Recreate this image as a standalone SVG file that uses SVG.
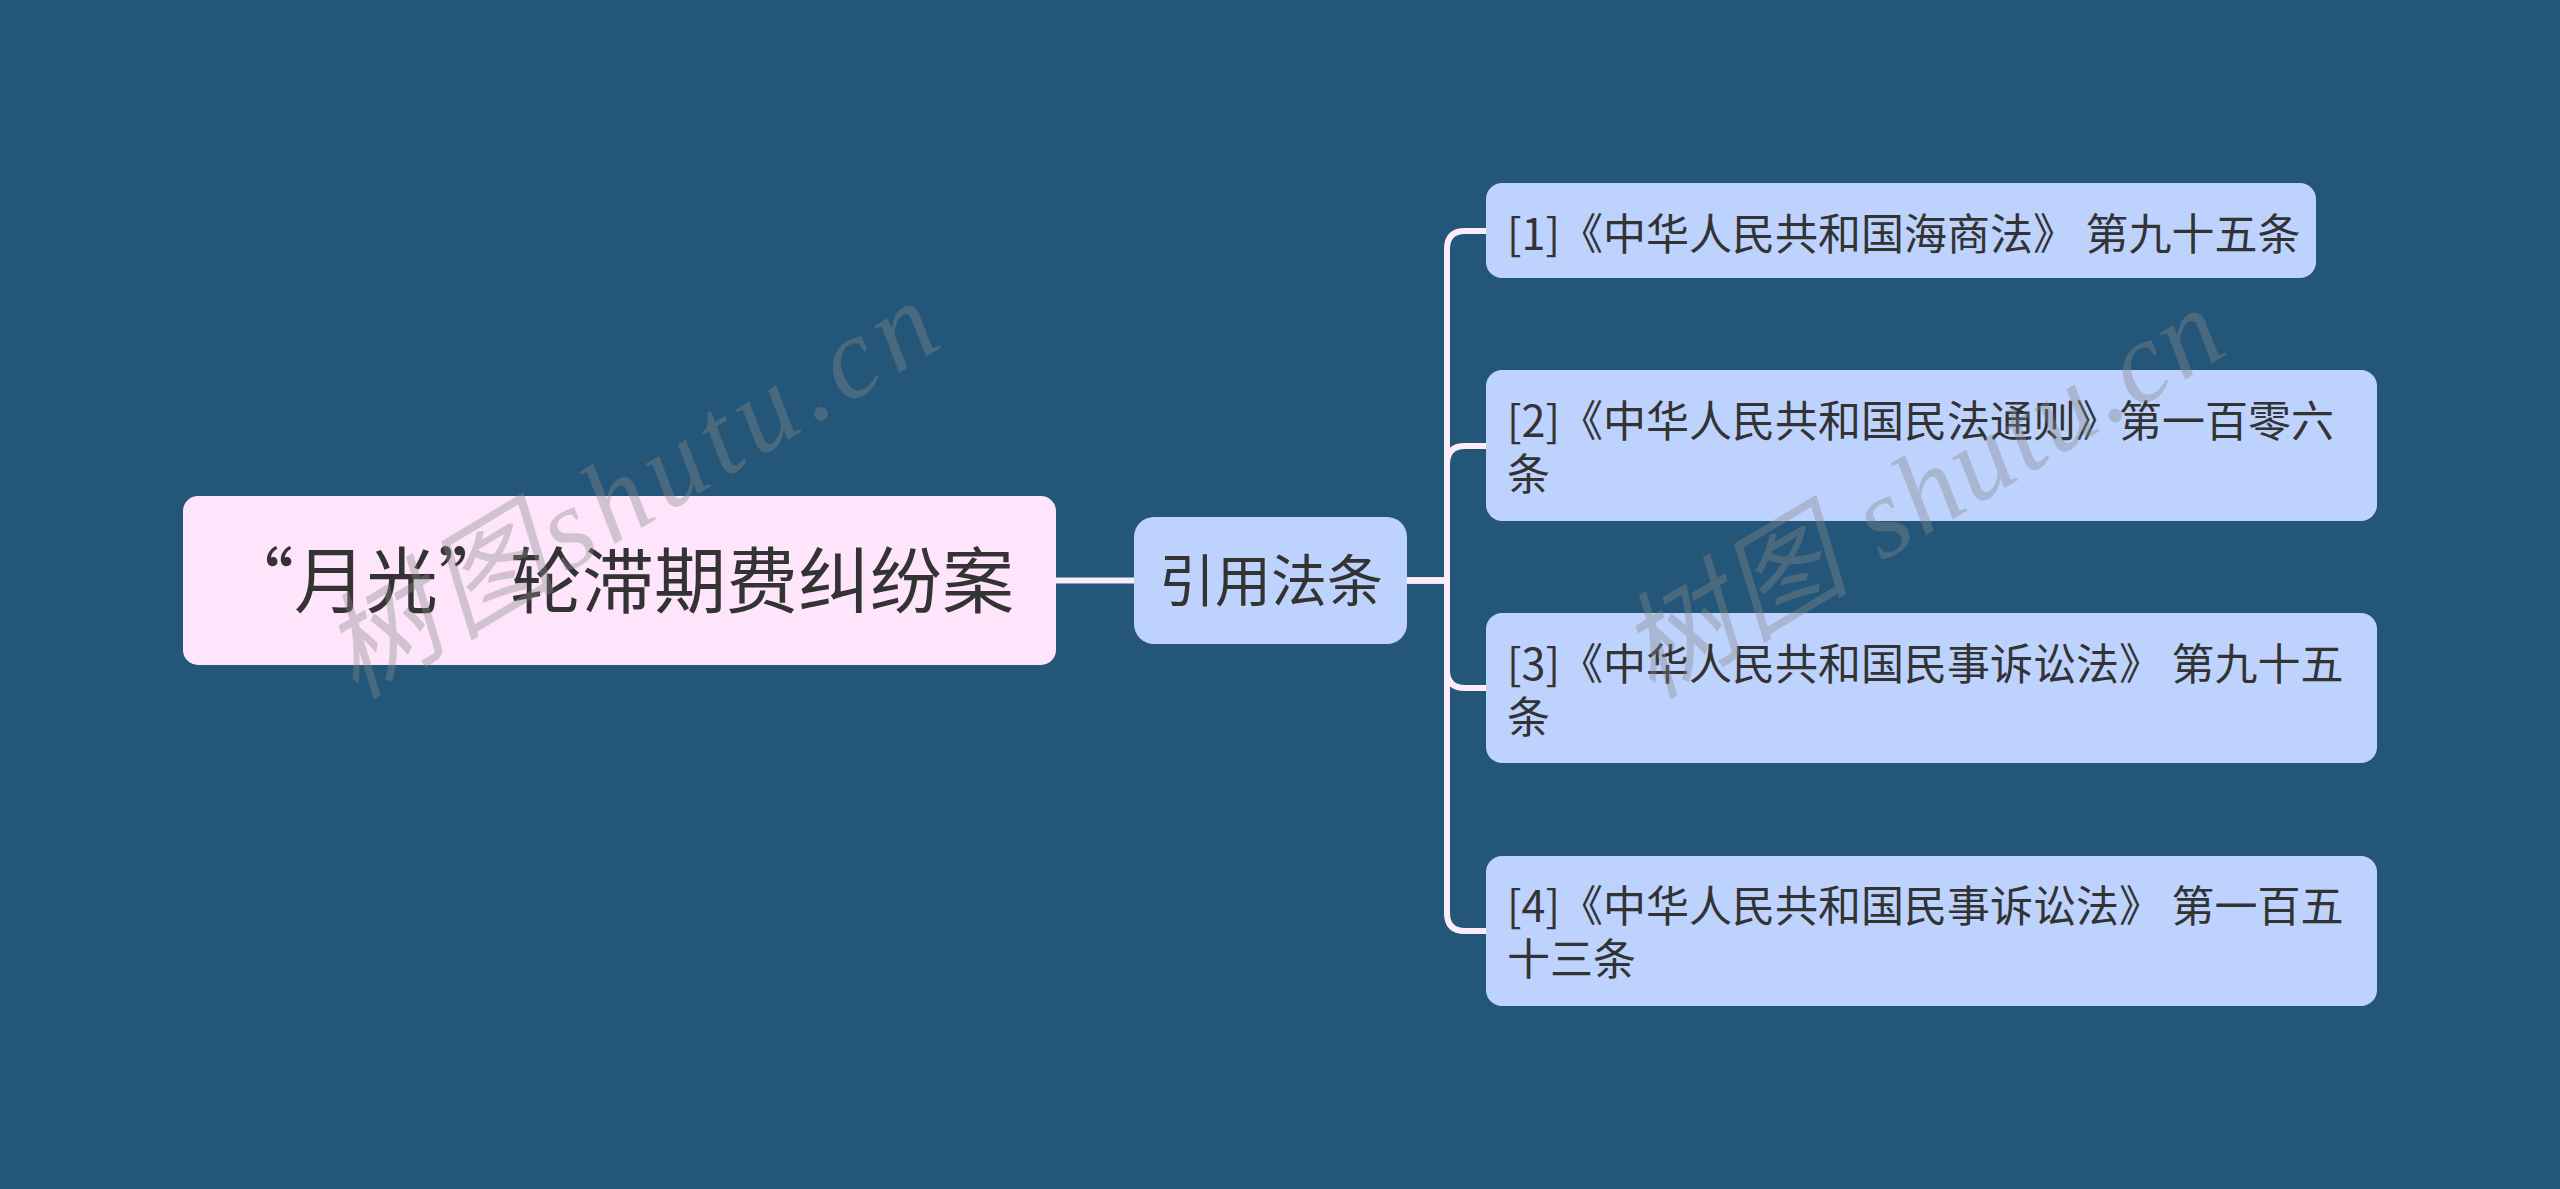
<svg xmlns="http://www.w3.org/2000/svg" width="2560" height="1189" viewBox="0 0 2560 1189">
<style>
.t{font-family:"Noto Sans CJK SC","Noto Sans",sans-serif;fill:#333333}
.s{font-size:43px}
.lvl{fill:#bdd2fd}
.conn{fill:none;stroke:#fcecf9;stroke-width:6;stroke-linecap:round}
.wm{font-family:"Liberation Serif","Noto Sans CJK SC",serif;font-style:italic;font-size:115px;fill:#8a8a8a;fill-opacity:0.38;letter-spacing:8px}
</style>
<rect x="0" y="0" width="2560" height="1189" fill="#235679"/>
<g id="connectors">
<path class="conn" d="M1056 580.5 H1134"/>
<path class="conn" d="M1407 580.5 H1447 V249 Q1447 231 1465 231 H1486"/>
<path class="conn" d="M1407 580.5 H1447 V464 Q1447 446 1465 446 H1486"/>
<path class="conn" d="M1407 580.5 H1447 V670 Q1447 688 1465 688 H1486"/>
<path class="conn" d="M1407 580.5 H1447 V913 Q1447 931 1465 931 H1486"/>
</g>
<g id="root">
<rect x="183" y="496" width="873" height="169" rx="15" fill="#fee5fc"/>
<text class="t" x="618" y="607" font-size="72" text-anchor="middle">“月光”轮滞期费纠纷案</text>
</g>
<g id="n-yinyong">
<rect class="lvl" x="1134" y="517" width="273" height="127" rx="20"/>
<text class="t" x="1271" y="601" font-size="56" text-anchor="middle">引用法条</text>
</g>
<g id="n1">
<rect class="lvl" x="1486" y="183" width="830" height="95" rx="16"/>
<text class="t s" x="1507" y="250">[1]《中华人民共和国海商法》 第九十五条</text>
</g>
<g id="n2">
<rect class="lvl" x="1486" y="370" width="891" height="151" rx="16"/>
<text class="t s" x="1507" y="437">[2]《中华人民共和国民法通则》第一百零六</text>
<text class="t s" x="1507" y="490">条</text>
</g>
<g id="n3">
<rect class="lvl" x="1486" y="613" width="891" height="150" rx="16"/>
<text class="t s" x="1507" y="680">[3]《中华人民共和国民事诉讼法》 第九十五</text>
<text class="t s" x="1507" y="733">条</text>
</g>
<g id="n4">
<rect class="lvl" x="1486" y="856" width="891" height="150" rx="16"/>
<text class="t s" x="1507" y="922">[4]《中华人民共和国民事诉讼法》 第一百五</text>
<text class="t s" x="1507" y="975">十三条</text>
</g>
<g id="watermark">
<text class="wm" transform="translate(355 700) rotate(-31)">树图shutu.cn</text>
<text class="wm" transform="translate(1652 700) rotate(-31)" style="letter-spacing:3px">树图 shutu.cn</text>
</g>
</svg>
